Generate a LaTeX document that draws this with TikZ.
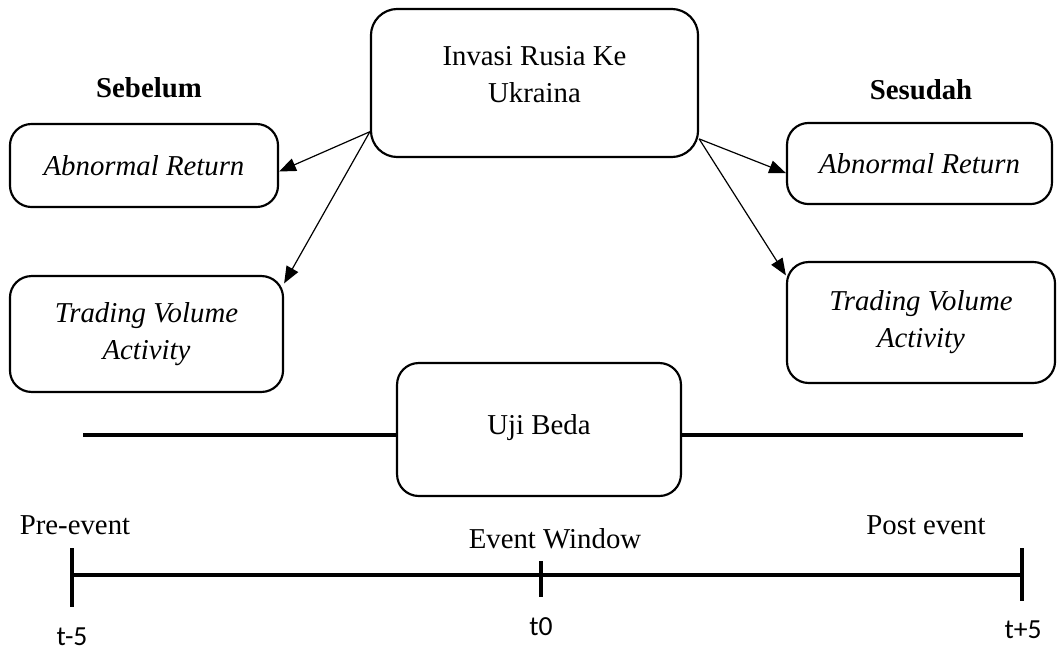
\documentclass[tikz,border=0pt]{standalone}
\usepackage{fontspec}
\setmainfont{Liberation Serif}
\newfontfamily\tickfont{Carlito}
\usetikzlibrary{arrows.meta}
\begin{document}
\begin{tikzpicture}[x=0.4167pt, y=-0.4167pt,
    box/.style={draw, line width=0.9pt, rounded corners=9pt, align=center, inner sep=2pt,
      font=\fontsize{12}{15.5}\selectfont},
    arr/.style={line width=0.5pt, -{Triangle[length=7pt,width=5.5pt]}},
    bar/.style={line width=1.6pt},
    lbl/.style={font=\fontsize{12}{14}\selectfont, anchor=base, inner sep=0pt},
    ticklbl/.style={font=\tickfont\fontsize{11.5}{13}\selectfont, anchor=base, inner sep=0pt}]
  \useasboundingbox (0,0) rectangle (1060,649);
  % boxes
  \node[box, rounded corners=11pt, minimum width=136.3pt, minimum height=61.7pt, text depth=7pt] (invasi) at (534.5,83) {Invasi Rusia Ke\\Ukraina};
  \node[box, minimum width=111.7pt, minimum height=34.6pt] (arL) at (144,165.5) {\itshape Abnormal Return};
  \node[box, minimum width=113.8pt, minimum height=48.3pt] (tvaL) at (146.5,334) {\itshape Trading Volume\\\itshape Activity};
  \node[box, minimum width=110.4pt, minimum height=33.8pt] (arR) at (919.5,163.5) {\itshape Abnormal Return};
  \node[box, minimum width=111.7pt, minimum height=50.4pt] (tvaR) at (921,322.5) {\itshape Trading Volume\\\itshape Activity};
  \node[box, minimum width=118.3pt, minimum height=55.4pt, text depth=4.5pt] (uji) at (539,429.5) {Uji Beda};
  \node[lbl, font=\fontsize{12}{14}\selectfont\bfseries] (sebelum) at (149,97) {Sebelum};
  \node[lbl, font=\fontsize{12}{14}\selectfont\bfseries] (sesudah) at (921,99) {Sesudah};
  % arrows
  \coordinate (srcL) at ([yshift=11pt]invasi.south west);
  \coordinate (srcR) at ([yshift=8pt]invasi.south east);
  \draw[arr] (srcL) -- ([yshift=-2.5pt]arL.east);
  \draw[arr] (srcL) -- ([yshift=-3.5pt]tvaL.north east);
  \draw[arr] (srcR) -- ([yshift=-4pt]arR.west);
  \draw[arr] (srcR) -- ([yshift=-6pt]tvaR.north west);
  % line through Uji Beda
  \coordinate (uL) at (83,435);
  \coordinate (uR) at (1023,435);
  \draw[bar] (uL) -- (uL -| uji.west);
  \draw[bar] (uji.east |- uR) -- (uR);
  % time line
  \coordinate (tA) at (72,575);
  \coordinate (tB) at (541,575);
  \coordinate (tC) at (1022,575);
  \draw[bar] (tA) -- (tC);
  \draw[bar] (tA) ++(0,-27) -- ++(0,59);
  \draw[bar] (tB) ++(0,-14) -- ++(0,36);
  \draw[bar] (tC) ++(0,-27) -- ++(0,53);
  \node[lbl] (pre) at (75,534) {Pre-event};
  \node[lbl] (window) at (555,548) {Event Window};
  \node[lbl] (post) at (926,534) {Post event};
  \node[ticklbl] (tmin) at (72,645) {t-5};
  \node[ticklbl] (tnol) at (541,635) {t0};
  \node[ticklbl] (tplus) at (1023,638) {t+5};
\end{tikzpicture}
\end{document}
